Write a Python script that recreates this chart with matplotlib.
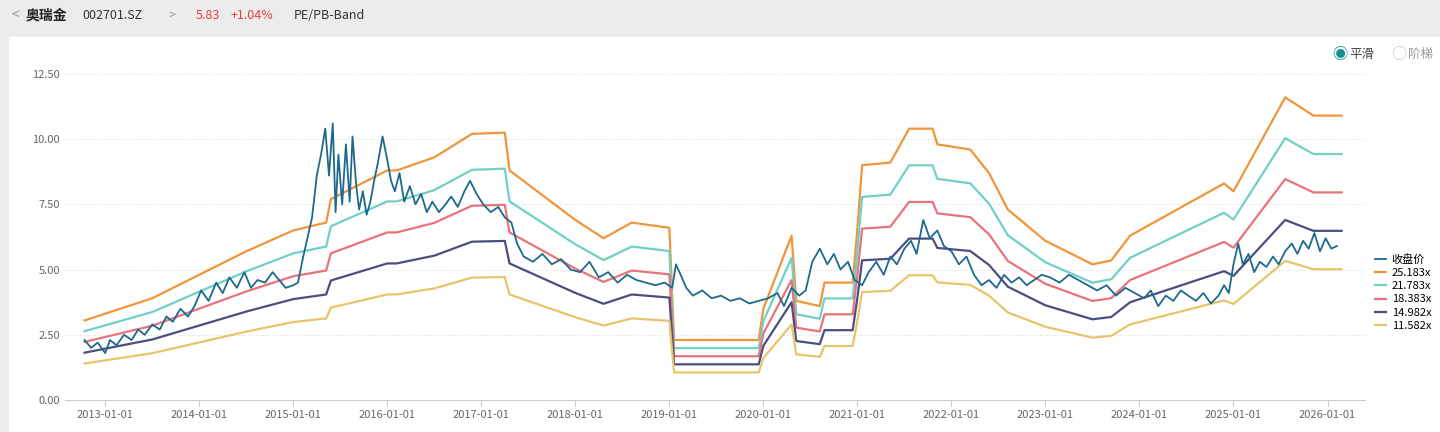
import numpy as np
import matplotlib.pyplot as plt
from matplotlib.patches import Rectangle

plt.rcParams['font.family'] = ['Noto Sans CJK SC', 'DejaVu Sans']

# band multiples and legend
multiples = [25.183, 21.783, 18.383, 14.982, 11.582]
band_colors = ['#f0963a', '#6fd0c8', '#e8737a', '#4b4e7e', '#e6c56a']
price_label = '收盘价'
price_color = '#1d6a8c'

# top band (25.183x); other bands scale with it
band_t = [2012.78, 2013.5, 2014.0, 2014.5, 2015.0, 2015.35, 2015.4, 2016.0, 2016.1, 2016.5, 2016.9,
          2017.25, 2017.3, 2018.0, 2018.3, 2018.6, 2019.0, 2019.05, 2019.95, 2020.0, 2020.3,
          2020.35, 2020.6, 2020.65, 2020.95, 2021.0, 2021.05, 2021.35, 2021.55, 2021.8, 2021.85,
          2022.2, 2022.4, 2022.6, 2022.8, 2023.0, 2023.5, 2023.7, 2023.9, 2024.5, 2024.9, 2025.0,
          2025.55, 2025.85, 2026.15]
band_top = [3.05, 3.9, 4.8, 5.7, 6.5, 6.8, 7.7, 8.8, 8.8, 9.3, 10.2,
            10.25, 8.8, 6.9, 6.2, 6.8, 6.6, 2.3, 2.3, 3.5, 6.3,
            3.8, 3.6, 4.5, 4.5, 6.6, 9.0, 9.1, 10.4, 10.4, 9.8,
            9.6, 8.7, 7.3, 6.7, 6.1, 5.2, 5.35, 6.3, 7.5, 8.3, 8.0,
            11.6, 10.9, 10.9]

# closing price (time, value)
price_t = [2012.78, 2012.85, 2012.92, 2013.0, 2013.05, 2013.12, 2013.2, 2013.28, 2013.35, 2013.42,
           2013.5, 2013.58, 2013.65, 2013.72, 2013.8, 2013.88, 2013.95, 2014.02, 2014.1, 2014.18,
           2014.25, 2014.32, 2014.4, 2014.48, 2014.55, 2014.62, 2014.7, 2014.78, 2014.85, 2014.92,
           2015.0, 2015.05, 2015.1, 2015.15, 2015.2, 2015.25, 2015.3, 2015.34, 2015.38, 2015.42,
           2015.45, 2015.48, 2015.52, 2015.56, 2015.6, 2015.63, 2015.67, 2015.7, 2015.74, 2015.78,
           2015.82, 2015.86, 2015.9, 2015.95, 2016.0, 2016.04, 2016.08, 2016.13, 2016.18, 2016.24,
           2016.3, 2016.36, 2016.42, 2016.48, 2016.55, 2016.62, 2016.68, 2016.75, 2016.82, 2016.88,
           2016.95, 2017.02, 2017.1, 2017.18, 2017.25, 2017.32, 2017.38, 2017.45, 2017.55, 2017.65,
           2017.75, 2017.85, 2017.95, 2018.05, 2018.15, 2018.25, 2018.35, 2018.45, 2018.55, 2018.65,
           2018.75, 2018.85, 2018.95, 2019.03, 2019.07, 2019.12, 2019.18, 2019.25, 2019.35, 2019.45,
           2019.55, 2019.65, 2019.75, 2019.85, 2019.95, 2020.05, 2020.15, 2020.22, 2020.3, 2020.38,
           2020.45, 2020.52, 2020.6, 2020.68, 2020.75, 2020.82, 2020.9, 2020.97, 2021.05, 2021.12,
           2021.2, 2021.28, 2021.35, 2021.42, 2021.5, 2021.57, 2021.63, 2021.7, 2021.77, 2021.85,
           2021.92, 2022.0, 2022.08, 2022.16, 2022.24, 2022.32, 2022.4, 2022.48, 2022.56, 2022.64,
           2022.72, 2022.8, 2022.88, 2022.96, 2023.05, 2023.15, 2023.25, 2023.35, 2023.45, 2023.55,
           2023.65, 2023.75, 2023.85, 2023.95, 2024.05, 2024.12, 2024.2, 2024.28, 2024.36, 2024.44,
           2024.52, 2024.6, 2024.68, 2024.76, 2024.84, 2024.9, 2024.95, 2025.0, 2025.05, 2025.1,
           2025.16, 2025.22, 2025.28, 2025.35, 2025.42, 2025.48, 2025.55, 2025.62, 2025.68, 2025.74,
           2025.8, 2025.86, 2025.92, 2025.98, 2026.04, 2026.1]
price = [2.3, 2.0, 2.2, 1.8, 2.3, 2.1, 2.5, 2.3, 2.7, 2.5,
         2.9, 2.7, 3.2, 3.0, 3.5, 3.2, 3.6, 4.2, 3.8, 4.5,
         4.1, 4.7, 4.3, 4.9, 4.3, 4.6, 4.5, 4.9, 4.6, 4.3,
         4.4, 4.5, 5.4, 6.2, 7.0, 8.6, 9.5, 10.4, 8.6, 10.6,
         7.2, 9.4, 7.5, 9.8, 7.6, 10.1, 8.2, 7.3, 8.0, 7.1,
         7.6, 8.4, 9.1, 10.1, 9.2, 8.4, 8.0, 8.7, 7.6, 8.2,
         7.5, 7.9, 7.2, 7.6, 7.2, 7.5, 7.8, 7.4, 8.0, 8.4,
         7.9, 7.5, 7.2, 7.4, 7.0, 6.8, 6.0, 5.5, 5.3, 5.6,
         5.2, 5.4, 5.0, 4.9, 5.3, 4.7, 4.9, 4.5, 4.8, 4.6,
         4.5, 4.4, 4.5, 4.3, 5.2, 4.8, 4.3, 4.0, 4.2, 3.9,
         4.0, 3.8, 3.9, 3.7, 3.8, 3.9, 4.1, 3.6, 4.3, 4.0,
         4.2, 5.3, 5.8, 5.2, 5.6, 5.0, 5.3, 4.6, 4.4, 4.9,
         5.3, 4.8, 5.5, 5.2, 5.8, 6.1, 5.6, 6.9, 6.2, 6.5,
         5.9, 5.7, 5.2, 5.5, 4.8, 4.4, 4.6, 4.3, 4.8, 4.5,
         4.7, 4.4, 4.6, 4.8, 4.7, 4.5, 4.8, 4.6, 4.4, 4.2,
         4.4, 4.0, 4.3, 4.1, 3.9, 4.2, 3.6, 4.0, 3.8, 4.2,
         4.0, 3.8, 4.1, 3.7, 4.0, 4.4, 4.1, 5.2, 6.0, 5.2,
         5.6, 4.9, 5.3, 5.1, 5.5, 5.2, 5.7, 6.0, 5.6, 6.1,
         5.8, 6.4, 5.7, 6.2, 5.8, 5.9]

tick_labels = ['%d-01-01' % y for y in range(2013, 2027)]
y_ticks = [0, 2.5, 5.0, 7.5, 10.0, 12.5]

fig = plt.figure(figsize=(14.4, 4.32), dpi=100)
fig.patch.set_facecolor('#ececec')
fig.add_artist(Rectangle((0.006, 0), 0.994, 0.915, transform=fig.transFigure,
                         facecolor='white', edgecolor='none', zorder=0))
fig.text(0.008, 0.965, '<', fontsize=10, color='#999999', va='center')
fig.text(0.018, 0.965, '奥瑞金', fontsize=10, fontweight='bold', color='#222222', va='center')
fig.text(0.057, 0.965, '002701.SZ', fontsize=9, color='#333333', va='center')
fig.text(0.117, 0.965, '>', fontsize=9, color='#999999', va='center')
fig.text(0.136, 0.965, '5.83', fontsize=9, color='#e04040', va='center')
fig.text(0.160, 0.965, '+1.04%', fontsize=9, color='#e04040', va='center')
fig.text(0.204, 0.965, 'PE/PB-Band', fontsize=9, color='#333333', va='center')

fig.text(0.925, 0.873, '◉', fontsize=11, color='#138f8f', va='center')
fig.text(0.937, 0.873, '平滑', fontsize=9, color='#444444', va='center')
fig.text(0.966, 0.873, '○', fontsize=11, color='#cccccc', va='center')
fig.text(0.978, 0.873, '阶梯', fontsize=9, color='#999999', va='center')

ax = fig.add_axes([0.045, 0.074, 0.903, 0.755])
band_top = np.array(band_top)
ax.plot(price_t, price, color=price_color, lw=1.3, label=price_label, zorder=5)
for m, c in zip(multiples, band_colors):
    ax.plot(band_t, band_top / multiples[0] * m, color=c, lw=1.6, label='%.3fx' % m)

ax.set_xlim(2012.57, 2026.4)
ax.set_ylim(0, 12.5)
ax.set_yticks(y_ticks)
ax.set_yticklabels(['%.2f' % v for v in y_ticks])
ax.set_xticks(range(2013, 2027))
ax.set_xticklabels(tick_labels)
ax.tick_params(labelsize=8, colors='#666666', length=0)
ax.tick_params(axis='x', length=4, color='#cccccc')
ax.grid(axis='y', linestyle=':', color='#dddddd')
for s in ['top', 'right', 'left']:
    ax.spines[s].set_visible(False)
ax.spines['bottom'].set_color('#cccccc')
ax.legend(loc='center left', bbox_to_anchor=(1.0, 0.33), frameon=False, fontsize=8,
          handlelength=1.0, labelspacing=0.3, handletextpad=0.5)

plt.savefig('out.png', dpi=100, facecolor=fig.get_facecolor())
